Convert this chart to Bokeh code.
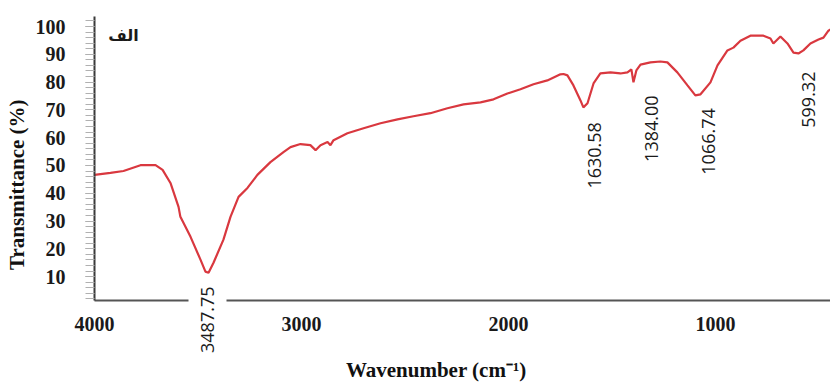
import math
from bokeh.plotting import figure
from bokeh.models import Range1d, FixedTicker, Label, LinearAxis
from bokeh.embed import file_html
from bokeh.resources import INLINE

# ---- data ----
wavenumber = [4000, 3923, 3860, 3778, 3705, 3671, 3633, 3594, 3585, 3536, 3488, 3464,
              3449, 3425, 3377, 3343, 3304, 3261, 3213, 3150, 3087, 3053, 3005, 2957,
              2932, 2908, 2874, 2860, 2845, 2778, 2700, 2618, 2536, 2459, 2377, 2295,
              2217, 2135, 2072, 2005, 1942, 1879, 1812, 1749, 1734, 1715, 1686, 1652,
              1638, 1618, 1589, 1556, 1507, 1459, 1425, 1406, 1396, 1382, 1362, 1314,
              1266, 1232, 1184, 1135, 1097, 1072, 1024, 990, 942, 913, 879, 831, 768,
              734, 720, 686, 652, 623, 599, 575, 541, 502, 478, 454, 430]
transmittance = [46.6, 47.3, 48.0, 50.1, 50.1, 48.4, 43.7, 35.1, 31.5, 24.3, 16.1, 11.8,
                 11.4, 15.0, 23.3, 31.5, 38.7, 41.9, 46.6, 51.2, 54.8, 56.6, 57.7, 57.3,
                 55.5, 57.3, 58.4, 57.3, 59.1, 61.6, 63.4, 65.2, 66.6, 67.7, 68.8, 70.6,
                 72.0, 72.7, 73.8, 75.9, 77.4, 79.2, 80.6, 82.8, 82.9, 82.4, 78.8, 73.4,
                 70.9, 72.4, 79.5, 83.1, 83.5, 83.1, 83.5, 84.6, 79.9, 84.2, 86.3, 87.1,
                 87.4, 87.1, 83.5, 78.8, 75.2, 75.6, 79.9, 86.0, 91.4, 92.4, 94.9, 96.7, 96.7,
                 95.7, 93.9, 96.4, 93.9, 90.6, 90.3, 91.4, 93.9, 95.3, 96.0, 98.5, 99.5]
peak_wavenumbers = [3487.75, 1630.58, 1384.00, 1066.74, 599.32]
x_ticks = [4000, 3000, 2000, 1000]
y_ticks = [10, 20, 30, 40, 50, 60, 70, 80, 90, 100]
x_title = "Wavenumber (cm\u207B\u00B9)"
y_title = "Transmittance (%)"
panel_label = "الف"

# ---- styling / placement (not data) ----
X0, X1 = 4000, 444
FRAME_W = 830 - 94
UNITS_PER_PX = (X0 - X1) / FRAME_W
peak_label_dx = [7, 10, 16, 7, 10]             # px offset from peak position
peak_label_top = [6.4, 65.6, 75.2, 70.6, 83.8]  # y (axis units) of label top
NBSP = "\u00A0"

p = figure(width=830, height=384, output_backend="svg", toolbar_location=None,
           x_range=Range1d(X0, X1), y_range=Range1d(1.4, 103.6),
           min_border_left=94, min_border_right=0, min_border_top=16,
           min_border_bottom=83)
p.outline_line_color = None
p.background_fill_color = "white"
p.xgrid.visible = False
p.ygrid.visible = False

p.line(wavenumber, transmittance, line_color="#d9383f", line_width=2.2)

serif = "Liberation Serif"
for ax in (p.xaxis[0], p.yaxis[0]):
    ax.major_label_text_font = serif
    ax.major_label_text_font_style = "bold"
    ax.major_label_text_font_size = "20px"
    ax.major_label_text_color = "#1a1a1a"
    ax.axis_label_text_font = serif
    ax.axis_label_text_font_style = "bold"
    ax.axis_label_text_font_size = "21px"
    ax.axis_label_text_color = "#111111"
    ax.axis_line_width = 2

p.yaxis.ticker = FixedTicker(ticks=y_ticks,
                             minor_ticks=[v for v in range(2, 104, 2)])
p.yaxis.axis_line_color = "#3a3a3a"
p.yaxis.major_tick_out = 9
p.yaxis.major_tick_in = 0
p.yaxis.minor_tick_out = 9
p.yaxis.minor_tick_in = 0
p.yaxis.major_tick_line_color = "#9a9a9a"
p.yaxis.minor_tick_line_color = "#b0b0b0"
p.yaxis.major_label_standoff = 20
# trailing no-break spaces shift the centred title toward the axis start
p.yaxis.axis_label = y_title + NBSP * 10
p.yaxis.axis_label_standoff = 4


def bare(ax):
    ax.major_tick_line_color = None
    ax.minor_tick_line_color = None
    ax.major_tick_out = 0
    ax.major_tick_in = 0
    ax.minor_tick_out = 0
    ax.minor_tick_in = 0


main_x = p.xaxis[0]
main_x.ticker = FixedTicker(ticks=x_ticks)
main_x.axis_line_color = None
bare(main_x)
main_x.major_label_standoff = -39
main_x.axis_label = x_title + NBSP * 10
main_x.axis_label_standoff = 24

# first peak label sits across the x axis line, which has a gap behind it
first_peak = peak_wavenumbers[0]
label_pos = first_peak - peak_label_dx[0] * UNITS_PER_PX
gap_half = 19 * UNITS_PER_PX

seg_left = LinearAxis(ticker=FixedTicker(ticks=[]), bounds=(label_pos + gap_half, X0))
seg_right = LinearAxis(ticker=FixedTicker(ticks=[]), bounds=(X1, label_pos - gap_half))
for seg in (seg_left, seg_right):
    bare(seg)
    seg.axis_line_color = "#555555"
    seg.axis_line_width = 2
    seg.major_label_text_font_size = "0px"

peak_x = LinearAxis(ticker=FixedTicker(ticks=[label_pos]),
                    major_label_overrides={label_pos: "%.2f" % first_peak})
bare(peak_x)
peak_x.axis_line_color = None
peak_x.major_label_orientation = math.pi / 2
peak_x.major_label_standoff = -14
peak_x.major_label_text_font = "Open Sans"
peak_x.major_label_text_font_size = "18px"
peak_x.major_label_text_color = "#1a1a1a"
p.below = [seg_left, seg_right, peak_x] + list(p.below)

for wn, dx, top in list(zip(peak_wavenumbers, peak_label_dx, peak_label_top))[1:]:
    lab = Label(x=wn, y=top, x_offset=dx, text="%.2f" % wn, angle=math.pi / 2,
                text_align="right", text_baseline="middle",
                text_font="Open Sans", text_font_size="18px", text_color="#1a1a1a")
    p.add_layout(lab)

p.add_layout(Label(x=3860, y=96.7, text=panel_label, text_align="center",
                   text_baseline="middle", text_font="DejaVu Sans",
                   text_font_style="bold", text_font_size="16px",
                   text_color="#1a1a1a"))

open("out.html", "w").write(file_html(p, INLINE))
